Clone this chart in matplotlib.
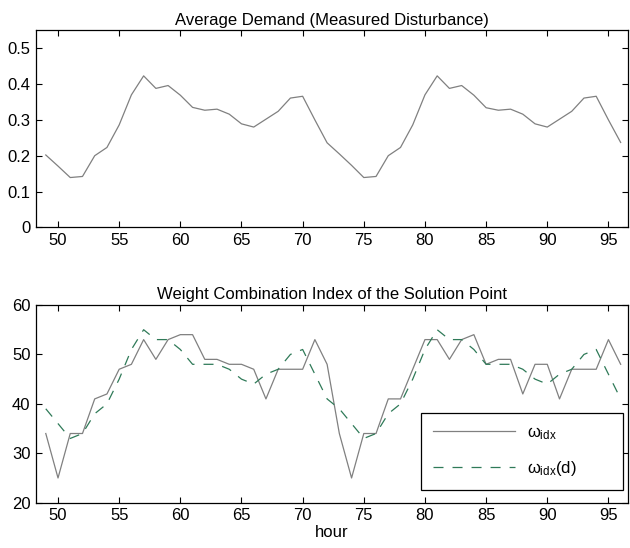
import numpy as np
import matplotlib
matplotlib.use("Agg")
import matplotlib.pyplot as plt

plt.rcParams['font.family'] = ['Liberation Sans', 'DejaVu Sans']
plt.rcParams['mathtext.fontset'] = 'custom'
plt.rcParams['mathtext.rm'] = 'Liberation Sans'
plt.rcParams['mathtext.it'] = 'Liberation Sans'
plt.rcParams['lines.scale_dashes'] = False

hours = list(range(49, 97))

demand = [0.202, 0.171, 0.139, 0.142, 0.200, 0.223, 0.286, 0.370, 0.423, 0.388, 0.396, 0.369,
          0.335, 0.327, 0.330, 0.316, 0.289, 0.280, 0.302, 0.324, 0.361, 0.366, 0.300, 0.236,
          0.205, 0.173, 0.139, 0.142, 0.200, 0.223, 0.286, 0.370, 0.423, 0.388, 0.396, 0.369,
          0.334, 0.327, 0.330, 0.316, 0.289, 0.280, 0.302, 0.324, 0.361, 0.366, 0.300, 0.237]

w_idx = [34, 25, 34, 34, 41, 42, 47, 48, 53, 49, 53, 54, 54, 49, 49, 48, 48, 47, 41, 47, 47, 47, 53, 48,
         34, 25, 34, 34, 41, 41, 47, 53, 53, 49, 53, 54, 48, 49, 49, 42, 48, 48, 41, 47, 47, 47, 53, 48]

w_idx_d = [39, 36, 33, 34, 38, 40, 45, 51, 55, 53, 53, 51, 48, 48, 48, 47, 45, 44, 46, 47, 50, 51, 46, 41,
           39, 36, 33, 34, 38, 40, 45, 51, 55, 53, 53, 51, 48, 48, 48, 47, 45, 44, 46, 47, 50, 51, 46, 41]

xticks = [50, 55, 60, 65, 70, 75, 80, 85, 90, 95]
top_yticks = [0, 0.1, 0.2, 0.3, 0.4, 0.5]
bot_yticks = [20, 30, 40, 50, 60]

W, H = 630, 548
fig = plt.figure(figsize=(W / 100, H / 100), dpi=100)

left = 36 / W
width = (628 - 36) / W
ax1 = fig.add_axes([left, 1 - 227.3 / H, width, (227.3 - 30.4) / H])
ax2 = fig.add_axes([left, 1 - 502.7 / H, width, (502.7 - 305) / H])

gray = '#808080'
green = '#2f7a58'
FS = 12

ax1.plot(hours, demand, color=gray, lw=0.9)
ax1.set_ylim(0, 0.55)
ax1.set_yticks(top_yticks)
ax1.set_yticklabels(['0', '0.1', '0.2', '0.3', '0.4', '0.5'])
ax1.set_title('Average Demand (Measured Disturbance)', fontsize=FS, pad=4)

ax2.plot(hours, w_idx, color=gray, lw=0.9, label=r'$\omega_{\mathrm{idx}}$')
ax2.plot(hours, w_idx_d, color=green, lw=0.9, dashes=(7.2, 6.5),
         label=r'$\omega_{\mathrm{idx}}$(d)')
ax2.set_ylim(20, 60)
ax2.set_yticks(bot_yticks)
ax2.set_title('Weight Combination Index of the Solution Point', fontsize=FS, pad=4)
ax2.set_xlabel('hour', fontsize=FS, labelpad=1)

for ax in (ax1, ax2):
    ax.set_xlim(48.2, 96.6)
    ax.set_xticks(xticks)
    ax.tick_params(direction='in', length=4, width=0.8, top=True, right=True,
                   labelsize=FS, pad=4)
    for s in ax.spines.values():
        s.set_linewidth(0.9)

leg = ax2.legend(loc='lower left', bbox_to_anchor=(0.65, 0.064, 0.3416, 0.385),
                 mode='expand', fancybox=False, framealpha=1, edgecolor='black',
                 fontsize=FS, handlelength=4.9, handletextpad=0.75,
                 labelspacing=1.0, borderpad=0.75, borderaxespad=0)
leg.get_frame().set_linewidth(0.9)

fig.savefig('out.png', dpi=100)
